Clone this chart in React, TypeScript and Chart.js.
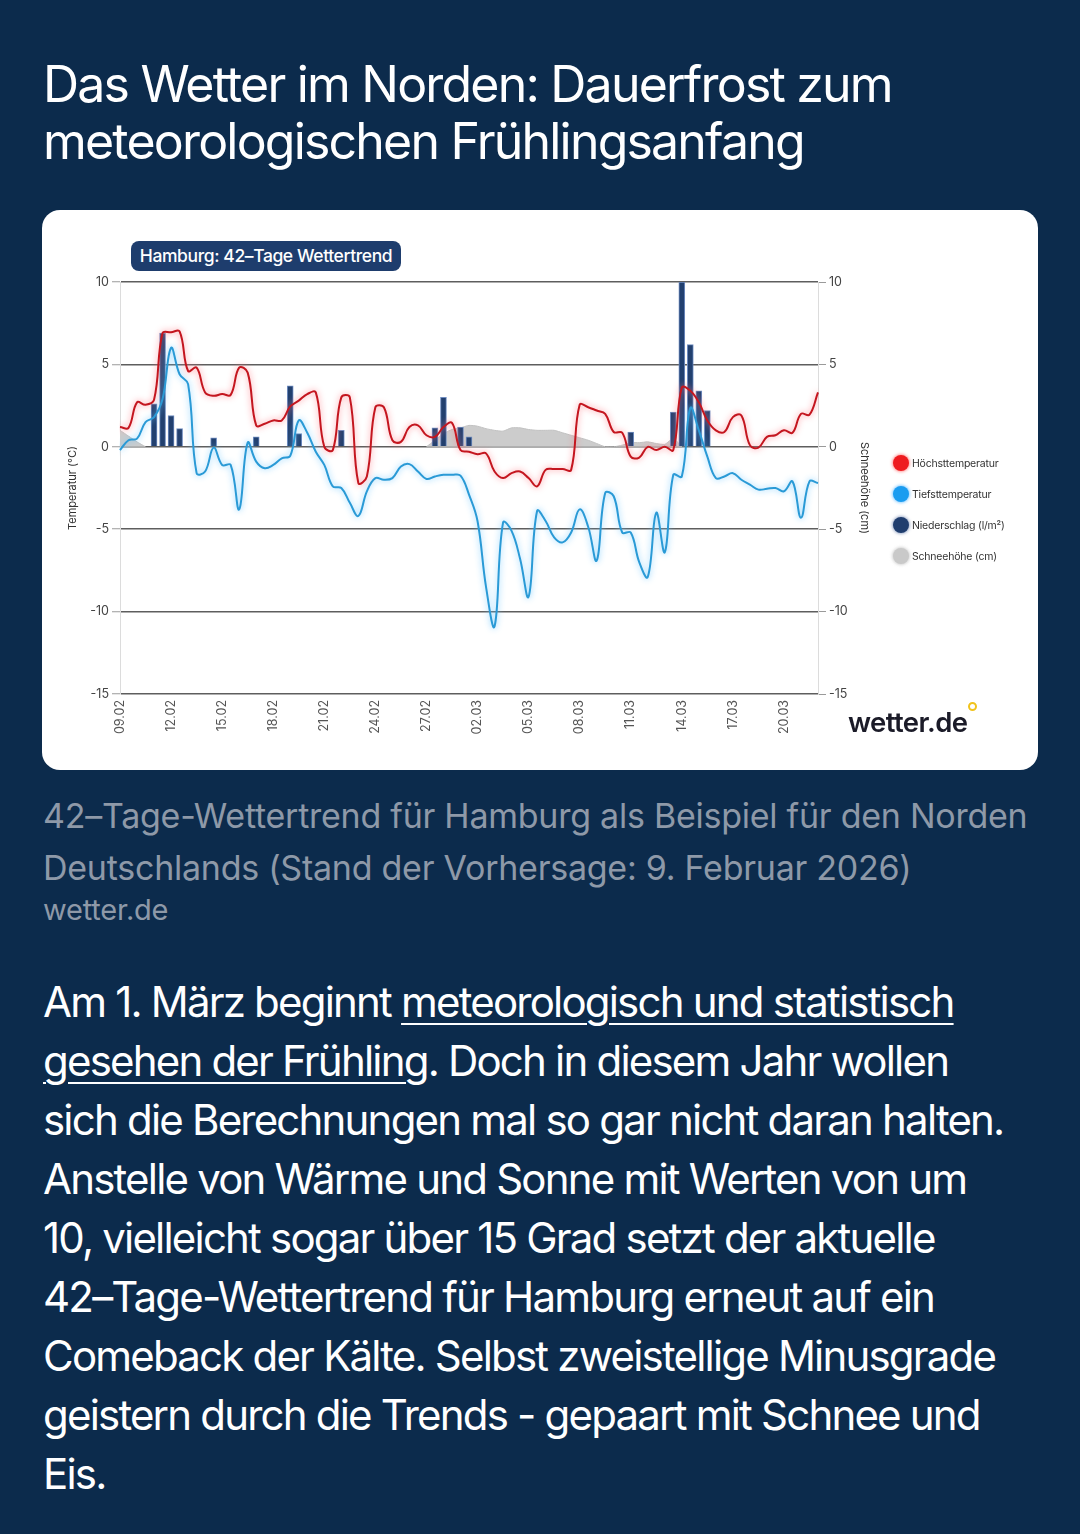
import React, { useEffect, useRef } from "react";
import { Chart, registerables } from "chart.js";

Chart.register(...registerables);

// 42 days, two values per day (00h / 12h)
const days = [
  "09.02", "10.02", "11.02", "12.02", "13.02", "14.02", "15.02", "16.02", "17.02", "18.02",
  "19.02", "20.02", "21.02", "22.02", "23.02", "24.02", "25.02", "26.02", "27.02", "28.02",
  "01.03", "02.03", "03.03", "04.03", "05.03", "06.03", "07.03", "08.03", "09.03", "10.03",
  "11.03", "12.03", "13.03", "14.03", "15.03", "16.03", "17.03", "18.03", "19.03", "20.03",
  "21.03", "22.03",
];

const maxTemp = [
  1.2, 1.15, 2.7, 2.55, 2.85, 6.9, 6.95, 7.0, 4.6, 4.8,
  3.3, 3.1, 3.2, 3.15, 4.8, 4.5, 1.3, 1.4, 1.6, 1.6,
  2.45, 2.8, 3.2, 3.3, 0.0, -0.2, 3.0, 3.0, -2.2, -1.8,
  2.4, 2.4, 0.4, 0.3, 1.2, 1.3, 0.7, 0.6, 1.2, 1.45,
  -0.2, -0.3, -0.45, -0.4, -1.5, -1.9, -1.6, -1.5, -1.9, -2.4,
  -1.4, -1.35, -1.35, -1.4, 2.55, 2.4, 2.2, 2.0, 0.9, 0.85,
  -0.6, -0.65, 0.0, -0.2, 0.0, -0.2, 3.6, 3.4, 2.7, 1.6,
  1.0, 0.9, 1.8, 1.9, 0.1, -0.05, 0.6, 0.7, 1.0, 0.85,
  2.0, 1.95, 3.3,
];

const minTemp = [
  -0.2, 0.4, 0.5, 1.5, 1.8, 2.9, 6.0, 4.4, 3.8, -1.6,
  -1.5, -0.05, -1.1, -1.1, -3.8, 0.25, -0.9, -1.3, -1.1, -0.7,
  -0.55, 1.6, 0.85, -0.3, -1.1, -2.4, -2.5, -3.4, -4.2, -2.7,
  -1.9, -2.0, -1.9, -1.2, -1.05, -1.5, -1.95, -1.8, -1.7, -1.7,
  -1.75, -2.9, -4.5, -8.5, -10.9, -4.6, -5.1, -6.8, -9.1, -3.9,
  -4.5, -5.5, -5.8, -5.2, -3.8, -4.85, -6.9, -2.8, -3.0, -5.2,
  -5.2, -7.0, -7.9, -4.0, -6.4, -1.7, -1.8, 2.35, 1.0, -0.6,
  -1.9, -1.8, -1.6, -2.0, -2.3, -2.6, -2.55, -2.5, -2.7, -2.1,
  -4.3, -2.1, -2.2,
];

const precip = [
  null, null, null, null, 2.6, 6.9, 1.9, 1.1, null, null,
  null, 0.55, null, null, null, null, 0.6, null, null, null,
  3.7, 0.8, null, null, null, null, 1.0, null, null, null,
  null, null, null, null, null, null, null, 1.15, 3.0, null,
  1.2, 0.6, null, null, null, null, null, null, null, null,
  null, null, null, null, null, null, null, null, null, null,
  0.9, null, null, null, null, 2.1, 10, 6.2, 3.4, 2.2,
  null, null, null, null, null, null, null, null, null, null,
  null, null, null,
];

const snow = [
  1.0, 0.65, 0.3, 0, null, null, null, null, null, null,
  null, null, null, null, null, null, null, null, null, null,
  null, null, null, null, null, null, null, null, null, null,
  null, null, null, null, null, null, 0, 0.4, 0.8, 1.05,
  1.15, 1.3, 1.25, 1.1, 1.0, 0.95, 1.15, 1.15, 1.05, 1.0,
  1.0, 1.0, 0.85, 0.7, 0.55, 0.4, 0.2, 0, 0, 0.1,
  0.25, 0.25, 0.3, 0.2, 0.15, 0.5, 0, null, null, null,
  null, null, null, null, null, null, null, null, null, null,
  null, null, null,
];

const yTicks = [-15, -10, -5, 0, 5, 10];

const labels: string[] = [];
days.forEach((d, i) => {
  labels.push(d);
  if (i < days.length - 1) labels.push(d);
});

const FONT = "Inter, 'Noto Sans', sans-serif";

const glowPlugin = {
  id: "glow",
  beforeDatasetDraw(chart: any, args: any) {
    const ds = chart.data.datasets[args.index];
    if (!ds.glowColor) return;
    chart.ctx.save();
    chart.ctx.shadowColor = ds.glowColor;
    chart.ctx.shadowBlur = 6;
  },
  afterDatasetDraw(chart: any, args: any) {
    const ds = chart.data.datasets[args.index];
    if (!ds.glowColor) return;
    chart.ctx.restore();
  },
};

function WeatherChart() {
  const ref = useRef<HTMLCanvasElement | null>(null);
  useEffect(() => {
    if (!ref.current) return;
    const tickFont = { family: FONT, size: 12.5 };
    const chart = new Chart(ref.current, {
      type: "bar",
      data: {
        labels,
        datasets: [
          {
            type: "line",
            label: "Höchsttemperatur",
            data: maxTemp,
            borderColor: "#c4161f",
            borderWidth: 2,
            pointRadius: 0,
            tension: 0.4,
            order: 1,
            glowColor: "rgba(255,120,130,0.9)",
          } as any,
          {
            type: "line",
            label: "Tiefsttemperatur",
            data: minTemp,
            borderColor: "#2a9ad6",
            borderWidth: 2,
            pointRadius: 0,
            tension: 0.4,
            order: 1,
            glowColor: "rgba(110,200,255,0.9)",
          } as any,
          {
            type: "bar",
            label: "Niederschlag (l/m²)",
            data: precip,
            backgroundColor: "#22406f",
            borderColor: "#6f8cc0",
            borderWidth: 1,
            barThickness: 6,
            order: 2,
          } as any,
          {
            type: "line",
            label: "Schneehöhe (cm)",
            data: snow,
            fill: "origin",
            backgroundColor: "#cccccc",
            borderColor: "#c2c2c2",
            borderWidth: 1,
            pointRadius: 0,
            tension: 0.2,
            order: 3,
          } as any,
        ],
      },
      options: {
        animation: false,
        responsive: false,
        maintainAspectRatio: false,
        layout: { padding: { top: 72, left: 20, right: 163, bottom: 0 } },
        plugins: { legend: { display: false }, tooltip: { enabled: false } },
        scales: {
          x: {
            offset: false,
            grid: { display: false, drawTicks: false },
            border: { display: false },
            ticks: {
              autoSkip: false,
              maxRotation: 90,
              minRotation: 90,
              padding: 6,
              color: "#555",
              font: tickFont,
              callback: (_v: any, i: number) => (i % 6 === 0 ? labels[i] : ""),
            },
            afterFit: (s: any) => {
              s.height = 76;
            },
          },
          y: {
            position: "left",
            min: -15,
            max: 10,
            afterBuildTicks: (s: any) => {
              s.ticks = yTicks.map((v) => ({ value: v }));
            },
            ticks: { color: "#444", font: tickFont, padding: 3 },
            grid: { color: "#5e5e5e", lineWidth: 1.5, tickLength: 8, tickColor: "#9a9a9a", tickWidth: 1 },
            border: { color: "#dcdcdc", width: 1 },
            title: { display: true, text: "Temperatur (°C)", color: "#333", font: { family: FONT, size: 11 } },
            afterFit: (s: any) => {
              s.width = 58;
            },
          },
          y1: {
            position: "right",
            min: -15,
            max: 10,
            afterBuildTicks: (s: any) => {
              s.ticks = yTicks.map((v) => ({ value: v }));
            },
            ticks: { color: "#444", font: tickFont, padding: 3 },
            grid: { drawOnChartArea: false, tickLength: 8, color: "#9a9a9a", tickWidth: 1 },
            border: { color: "#dcdcdc", width: 1 },
            title: { display: true, text: "Schneehöhe (cm)", color: "#333", font: { family: FONT, size: 11 } },
            afterFit: (s: any) => {
              s.width = 57;
            },
          },
        },
      } as any,
      plugins: [glowPlugin],
    });
    return () => chart.destroy();
  }, []);
  return <canvas ref={ref} width={996} height={560} style={{ position: "absolute", left: 0, top: 0, width: 996, height: 560 }} />;
}

const legendItems = [
  { label: "Höchsttemperatur", color: "#ee1b1f", glow: "rgba(255,80,80,0.6)" },
  { label: "Tiefsttemperatur", color: "#1a9cf0", glow: "rgba(60,170,255,0.6)" },
  { label: "Niederschlag (l/m²)", color: "#1f3d6e", glow: "rgba(60,90,150,0.5)" },
  { label: "Schneehöhe (cm)", color: "#c9c9c9", glow: "rgba(180,180,180,0.6)" },
];

export default function App() {
  useEffect(() => {
    document.body.style.margin = "0";
  }, []);
  const txt: React.CSSProperties = { position: "absolute", left: 43, whiteSpace: "nowrap", fontFamily: FONT };
  const u: React.CSSProperties = { textDecoration: "underline", textUnderlineOffset: 6, textDecorationThickness: 2 };
  const bodyLines = [
    <>Am 1. März beginnt <span style={u}>meteorologisch und statistisch</span></>,
    <><span style={u}>gesehen der Frühling</span>. Doch in diesem Jahr wollen</>,
    <>sich die Berechnungen mal so gar nicht daran halten.</>,
    <>Anstelle von Wärme und Sonne mit Werten von um</>,
    <>10, vielleicht sogar über 15 Grad setzt der aktuelle</>,
    <>42–Tage-Wettertrend für Hamburg erneut auf ein</>,
    <>Comeback der Kälte. Selbst zweistellige Minusgrade</>,
    <>geistern durch die Trends - gepaart mit Schnee und</>,
    <>Eis.</>,
  ];
  return (
    <div style={{ position: "relative", width: 1080, height: 1534, background: "#0c2b4c", overflow: "hidden", fontFamily: FONT }}>
      <div style={{ ...txt, top: 56, color: "#fff", fontSize: 50, lineHeight: "57px", letterSpacing: -1.8 }}>
        Das Wetter im Norden: Dauerfrost zum
        <br />
        meteorologischen Frühlingsanfang
      </div>
      <div style={{ position: "absolute", left: 42, top: 210, width: 996, height: 560, background: "#fff", borderRadius: 18, overflow: "hidden" }}>
        <WeatherChart />
        <div
          style={{
            position: "absolute",
            left: 89,
            top: 31,
            width: 270,
            height: 30,
            background: "#1e3d6d",
            borderRadius: 8,
            color: "#fff",
            fontSize: 17.5,
            fontWeight: 500,
            letterSpacing: -0.4,
            lineHeight: "30px",
            textAlign: "center",
            whiteSpace: "nowrap",
          }}
        >
          Hamburg: 42–Tage Wettertrend
        </div>
        {legendItems.map((it, k) => (
          <div key={k} style={{ position: "absolute", left: 851, top: 253 - 8 + k * 31, height: 16, display: "flex", alignItems: "center", whiteSpace: "nowrap" }}>
            <span style={{ width: 16, height: 16, borderRadius: 8, background: it.color, boxShadow: `0 0 3px 1px ${it.glow}`, display: "inline-block" }} />
            <span style={{ marginLeft: 3, fontSize: 10.5, color: "#333", letterSpacing: -0.2 }}>{it.label}</span>
          </div>
        ))}
        <div style={{ position: "absolute", left: 806, top: 497, fontSize: 27.5, fontWeight: 600, color: "#1b1b28", letterSpacing: -0.6, lineHeight: "30px" }}>
          wetter.de
        </div>
        <div style={{ position: "absolute", left: 926, top: 492, width: 5, height: 5, borderRadius: 5, border: "2px solid #f1c31c" }} />
      </div>
      <div style={{ ...txt, top: 790, color: "#8e99a8", fontSize: 34, lineHeight: "52px", letterSpacing: -0.25 }}>
        42–Tage-Wettertrend für Hamburg als Beispiel für den Norden
        <br />
        Deutschlands (Stand der Vorhersage: 9. Februar 2026)
      </div>
      <div style={{ ...txt, top: 893, color: "#8e99a8", fontSize: 29, lineHeight: "34px", letterSpacing: -0.2 }}>wetter.de</div>
      <div style={{ ...txt, top: 972, color: "#fff", fontSize: 42, lineHeight: "59px", letterSpacing: -1.8 }}>
        {bodyLines.map((l, i) => (
          <div key={i}>{l}</div>
        ))}
      </div>
    </div>
  );
}
